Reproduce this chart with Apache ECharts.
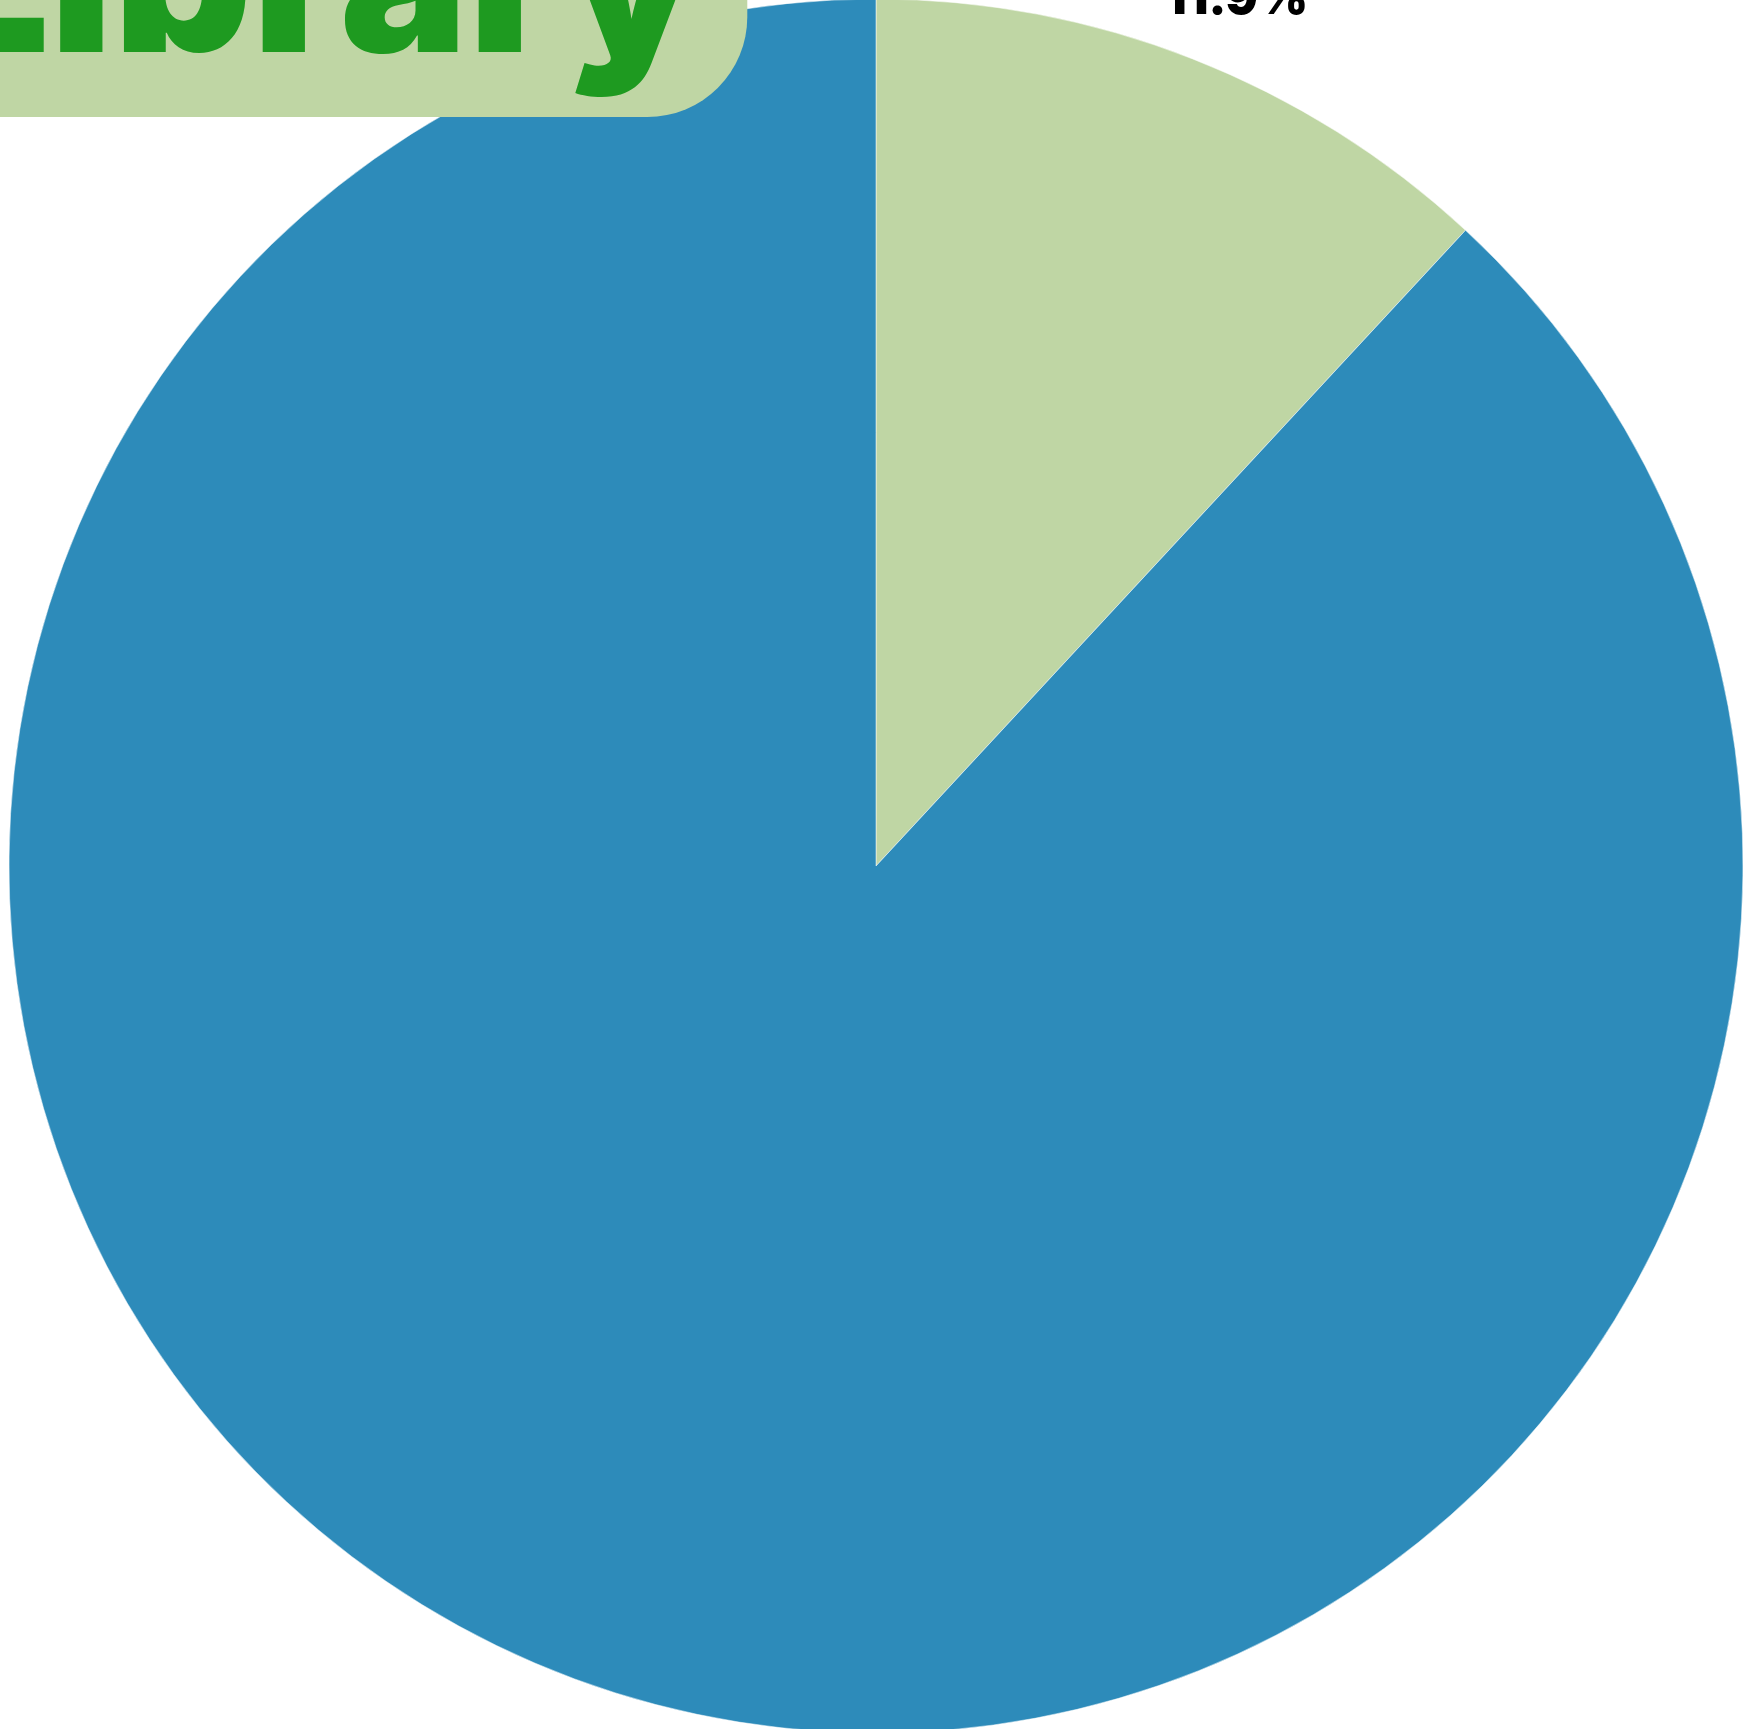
<!DOCTYPE html>
<html>
<head>
<meta charset="utf-8">
<script src="https://cdn.jsdelivr.net/npm/echarts@6/dist/echarts.min.js"></script>
<style>
html,body{margin:0;padding:0;background:#fff;}
#chart{width:1748px;height:1729px;}
</style>
</head>
<body>
<div id="chart"></div>
<script>
var titleText = "Library";
var categories = ["Yes", "No"];
var values = [11.9, 88.1];
var sliceColors = ["#bfd6a4", "#2d8bba"];

var chart = echarts.init(document.getElementById('chart'), null, {renderer: 'canvas'});
var data = categories.map(function (c, i) {
  return {name: c, value: values[i], itemStyle: {color: sliceColors[i]}};
});
chart.setOption({
  animation: false,
  backgroundColor: '#ffffff',
  title: {
    text: titleText,
    left: -112,
    top: -160,
    padding: [40, 46, 22, 40],
    backgroundColor: '#bfd6a4',
    borderRadius: 100,
    textStyle: {
      fontFamily: 'Inter',
      fontWeight: 900,
      fontSize: 215,
      color: '#1e9a20'
    }
  },
  series: [{
    type: 'pie',
    center: [876, 866],
    radius: 867,
    startAngle: 90,
    clockwise: true,
    z: 1,
    data: data,
    itemStyle: {borderColor: '#ffffff', borderWidth: 0.5},
    label: {
      show: true,
      position: 'outside',
      formatter: function (p) { return p.value.toFixed(1) + '%'; },
      fontFamily: 'Inter',
      fontWeight: 900,
      fontSize: 48,
      color: '#000000'
    },
    labelLine: {show: false},
    labelLayout: function (params) {
      return params.dataIndex === 0 ? {dx: -68, dy: -45} : {dx: 151, dy: 63};
    }
  }]
});
</script>
</body>
</html>
